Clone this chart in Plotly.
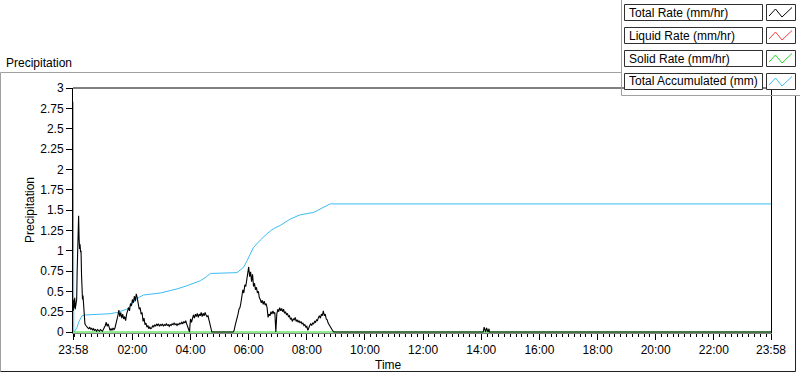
import datetime as dt
import plotly.graph_objects as go

# ---------------- data ----------------
start = dt.datetime(2021, 1, 1, 23, 58)

total_rate_readings = [
    (0,0.26),(1,0.40),(2,0.30),(3,0.42),(4,0.28),(5,0.36),(6,0.33),(7,0.40),(8,0.75),(9,1.1),
    (10,1.3),(11,1.43),(12,1.15),(13,1.02),(14,1.08),(15,0.98),(16,1.0),(17,0.7),(18,0.44),(19,0.4),
    (20,0.45),(21,0.36),(22,0.2),(23,0.16),(24,0.1),(26,0.08),(28,0.06),(30,0.05),
    (32,0.04),(34,0.06),(36,0.03),(38,0.05),(40,0.02),(42,0.04),(44,0.02),(46,0.03),(48,0.01),(50,0.03),
    (52,0.02),(54,0.01),(56,0.03),(58,0.02),(60,0.01),(62,0.03),(64,0.05),(66,0.08),(68,0.12),(70,0.07),
    (72,0.1),(74,0.04),(76,0.02),(78,0.04),(80,0.02),(82,0.05),(84,0.03),(86,0.05),(88,0.09),(90,0.16),
    (92,0.2),(94,0.27),(96,0.19),(98,0.24),(100,0.17),(102,0.22),(104,0.16),(106,0.19),(108,0.14),(110,0.22),
    (112,0.28),(114,0.3),(116,0.26),(118,0.35),(120,0.32),(122,0.4),(124,0.36),(126,0.44),(128,0.38),(130,0.47),
    (132,0.42),(134,0.36),(136,0.28),(138,0.3),(140,0.22),(142,0.24),(144,0.13),(146,0.17),(148,0.09),(150,0.11),
    (152,0.06),(154,0.08),(156,0.04),(158,0.06),(160,0.04),(162,0.05),(164,0.08),(166,0.06),(168,0.09),(170,0.07),
    (172,0.1),(174,0.08),(176,0.1),(178,0.07),(180,0.09),(182,0.08),(184,0.1),(186,0.07),(188,0.09),(190,0.08),
    (192,0.1),(194,0.08),(196,0.09),(198,0.07),(200,0.09),(202,0.08),(204,0.1),(206,0.09),(208,0.11),(210,0.09),
    (212,0.1),(214,0.08),(216,0.1),(218,0.09),(220,0.11),(222,0.1),(224,0.12),(226,0.1),(228,0.13),(230,0.11),
    (232,0.14),(234,0.1),(236,0.06),(238,0.02),(240,0.0),(241,0.1),(242,0.16),(244,0.12),(246,0.18),(248,0.21),
    (250,0.17),(252,0.22),(254,0.19),(256,0.23),(258,0.18),(260,0.22),(262,0.2),(264,0.24),(266,0.19),(268,0.23),
    (270,0.2),(272,0.24),(274,0.21),(276,0.19),(278,0.2),(280,0.15),(282,0.13),(284,0.06),(286,0.0),(330,0.0),
    (332,0.02),(334,0.08),(336,0.12),(338,0.18),(340,0.22),(342,0.28),(344,0.3),(346,0.36),(348,0.44),(350,0.52),
    (352,0.48),(354,0.58),(356,0.56),(358,0.65),(360,0.7),(362,0.8),(364,0.68),(366,0.74),(368,0.62),(370,0.71),
    (372,0.56),(374,0.6),(376,0.52),(378,0.55),(380,0.48),(382,0.5),(384,0.42),(386,0.4),(388,0.36),(390,0.39),
    (392,0.34),(394,0.38),(396,0.33),(398,0.35),(400,0.3),(402,0.18),(404,0.22),(406,0.2),(408,0.25),(410,0.22),
    (412,0.26),(414,0.23),(416,0.24),(418,0.0),(420,0.22),(422,0.28),(424,0.25),(426,0.3),(428,0.26),(430,0.29),
    (432,0.25),(434,0.28),(436,0.23),(438,0.25),(440,0.21),(442,0.23),(444,0.19),(446,0.2),(448,0.16),(450,0.17),
    (452,0.13),(454,0.16),(456,0.15),(458,0.18),(460,0.13),(462,0.15),(464,0.12),(466,0.14),(468,0.11),(470,0.13),
    (472,0.1),(474,0.11),(476,0.08),(478,0.09),(480,0.06),(482,0.07),(484,0.02),(486,0.06),(488,0.08),(490,0.1),
    (492,0.08),(494,0.11),(496,0.1),(498,0.13),(500,0.12),(502,0.15),(504,0.14),(506,0.18),(508,0.2),(510,0.17),
    (512,0.22),(514,0.2),(516,0.26),(518,0.2),(520,0.22),(522,0.16),(524,0.15),(526,0.11),(528,0.09),(530,0.06),
    (532,0.04),(534,0.03),(536,0.01),(538,0.0),(846,0.0),(848,0.06),(849,0.02),(851,0.0),(853,0.05),(854,0.02),
    (856,0.0),(858,0.04),(859,0.0),(1440,0.0),
]

accum_minutes = [0, 1, 4, 8, 11, 14, 18, 25, 56, 76, 90, 100, 110, 118, 124, 131, 137, 145, 180, 194,
                 214, 235, 256, 262, 275, 283, 338, 345, 352, 358, 365, 372, 386, 400, 413, 427, 448,
                 468, 496, 516, 530, 1440]
accum_values = [2.83, 0.0, 0.02, 0.06, 0.12, 0.16, 0.2, 0.21, 0.22, 0.225, 0.24, 0.26, 0.28, 0.32, 0.36,
                0.41, 0.43, 0.455, 0.48, 0.5, 0.53, 0.57, 0.61, 0.63, 0.68, 0.72, 0.73, 0.76, 0.8, 0.87,
                0.95, 1.04, 1.13, 1.21, 1.27, 1.31, 1.39, 1.44, 1.47, 1.53, 1.575, 1.575]

solid_minutes = [0, 1440]
solid_values = [0.0, 0.0]

legend_labels = ["Total Rate (mm/hr)", "Liquid Rate (mm/hr)", "Solid Rate (mm/hr)", "Total Accumulated (mm)"]
legend_colors = ["#000000", "#ff3b3b", "#22dd22", "#3cbcf5"]

y_ticks = [0, 0.25, 0.5, 0.75, 1, 1.25, 1.5, 1.75, 2, 2.25, 2.5, 2.75, 3]
y_tick_text = ["0", "0.25", "0.5", "0.75", "1", "1.25", "1.5", "1.75", "2", "2.25", "2.5", "2.75", "3"]
x_tick_text = ["23:58", "02:00", "04:00", "06:00", "08:00", "10:00", "12:00",
               "14:00", "16:00", "18:00", "20:00", "22:00", "23:58"]

# ---------------- build ----------------
def t(m):
    return start + dt.timedelta(minutes=m)

rate_x = [t(m) for m, _ in total_rate_readings]
rate_y = [v for _, v in total_rate_readings]

end = t(1440)
midnight = dt.datetime(2021, 1, 2, 0, 0)
x_tick_vals = [start] + [midnight + dt.timedelta(hours=h) for h in range(2, 24, 2)] + [end]

FONT = "Liberation Sans"
W, H = 800, 373
L, R, T, B = 73, 29, 88, 40
PW, PH = W - L - R, H - T - B

def px(x):
    return (x - L) / PW

def py(y):
    return (T + PH - y) / PH

fig = go.Figure()
fig.add_trace(go.Scatter(x=[t(m) for m in accum_minutes], y=accum_values, mode="lines",
                         line=dict(color=legend_colors[3], width=1), showlegend=False))
fig.add_trace(go.Scatter(x=[t(m) for m in solid_minutes], y=solid_values, mode="lines",
                         line=dict(color=legend_colors[2], width=1), showlegend=False))
fig.add_trace(go.Scatter(x=rate_x, y=rate_y, mode="lines",
                         line=dict(color=legend_colors[0], width=1.1), showlegend=False))

shapes = []
# outer frame
shapes.append(dict(type="line", xref="paper", yref="paper", x0=px(0.5), x1=px(621), y0=py(72.5), y1=py(72.5),
                   line=dict(color="#a0a0a0", width=1)))
shapes.append(dict(type="line", xref="paper", yref="paper", x0=px(0.5), x1=px(0.5), y0=py(72.5), y1=py(371.5),
                   line=dict(color="#a0a0a0", width=1)))
shapes.append(dict(type="line", xref="paper", yref="paper", x0=px(0.5), x1=px(795.5), y0=py(371.5), y1=py(371.5),
                   line=dict(color="#202020", width=1)))
shapes.append(dict(type="line", xref="paper", yref="paper", x0=px(795.5), x1=px(795.5), y0=py(95.5), y1=py(371.5),
                   line=dict(color="#202020", width=1)))
# top border of plot area
shapes.append(dict(type="line", xref="paper", yref="paper", x0=0, x1=1, y0=1, y1=1,
                   line=dict(color="#000000", width=1)))
# legend panel
shapes.append(dict(type="line", xref="paper", yref="paper", x0=px(621.5), x1=px(621.5), y0=py(0), y1=py(95.5),
                   line=dict(color="#a0a0a0", width=1)))
shapes.append(dict(type="line", xref="paper", yref="paper", x0=px(621.5), x1=px(800), y0=py(95.5), y1=py(95.5),
                   line=dict(color="#a0a0a0", width=1)))

annotations = []
row_tops = [4, 27, 50, 73]
for lab, col, top in zip(legend_labels, legend_colors, row_tops):
    shapes.append(dict(type="rect", xref="paper", yref="paper", x0=px(624.5), x1=px(762.5),
                       y0=py(top + 16.5), y1=py(top + 0.5), fillcolor="white",
                       line=dict(color="#303030", width=1)))
    shapes.append(dict(type="rect", xref="paper", yref="paper", x0=px(766.5), x1=px(795.5),
                       y0=py(top + 16.5), y1=py(top + 0.5), fillcolor="white",
                       line=dict(color="#303030", width=1)))
    pts = [(769, top + 12), (775.5, top + 5), (782, top + 13), (792, top + 3.5)]
    path = "M " + " L ".join(f"{px(a)},{py(b)}" for a, b in pts)
    shapes.append(dict(type="path", xref="paper", yref="paper", path=path,
                       line=dict(color=col, width=1)))
    annotations.append(dict(text=lab, xref="paper", yref="paper", x=px(627), y=py(top + 8.5),
                            xanchor="left", yanchor="middle", showarrow=False,
                            font=dict(family=FONT, size=12, color="#000000")))

annotations.append(dict(text="Precipitation", xref="paper", yref="paper", x=px(4), y=py(63),
                        xanchor="left", yanchor="middle", showarrow=False,
                        font=dict(family=FONT, size=12, color="#000000")))
annotations.append(dict(text="Precipitation", xref="paper", yref="paper", x=px(30), y=py(210),
                        xanchor="center", yanchor="middle", showarrow=False, textangle=-90,
                        font=dict(family=FONT, size=12, color="#000000")))
annotations.append(dict(text="Time", xref="paper", yref="paper", x=px(388), y=py(365),
                        xanchor="center", yanchor="middle", showarrow=False,
                        font=dict(family=FONT, size=12, color="#000000")))

fig.update_layout(
    width=W, height=H,
    margin=dict(l=L, r=R, t=T, b=B, pad=0),
    paper_bgcolor="white", plot_bgcolor="white",
    showlegend=False,
    hovermode=False,
    font=dict(family=FONT, size=12, color="#000000"),
    shapes=shapes, annotations=annotations,
    xaxis=dict(
        type="date", range=[t(-0.6), end],
        tickmode="array", tickvals=x_tick_vals, ticktext=x_tick_text,
        ticks="outside", ticklen=6, tickcolor="#000000", tickwidth=1,
        showgrid=False, zeroline=False,
        showline=True, linecolor="#808080", linewidth=1,
        minor=dict(tickmode="linear", tick0=midnight, dtick=12 * 60 * 1000,
                   ticks="outside", ticklen=3, tickcolor="#000000", tickwidth=1, showgrid=False),
        tickfont=dict(family=FONT, size=12, color="#000000"),
    ),
    yaxis=dict(
        range=[-0.012, 3],
        tickmode="array", tickvals=y_ticks, ticktext=y_tick_text,
        ticks="outside", ticklen=6, tickcolor="#000000", tickwidth=1,
        showgrid=False, zeroline=False,
        showline=True, linecolor="#000000", linewidth=1, mirror=True,
        tickfont=dict(family=FONT, size=12, color="#000000"),
    ),
)

fig.write_html("out.html", config={"displayModeBar": False, "staticPlot": True},
               post_script="document.body.style.margin='0';document.body.style.overflow='hidden';")
